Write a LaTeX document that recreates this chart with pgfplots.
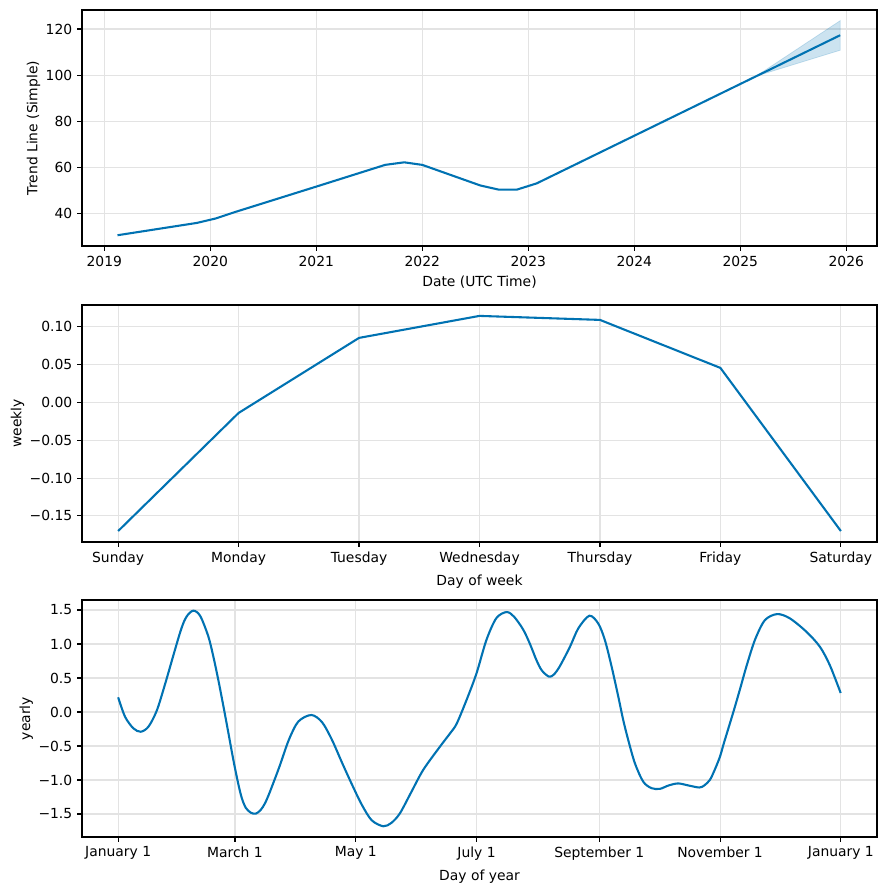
\documentclass[border=0pt]{standalone}
\usepackage{fontspec}
\setmainfont{DejaVu Sans}
\usepackage{pgfplots}
\pgfplotsset{compat=1.18}
\definecolor{pblue}{HTML}{0072B2}
\definecolor{gridc}{HTML}{E3E3E3}
\pgfplotsset{
  comp/.style={
    width=572.4pt, scale only axis,
    anchor=north west,
    /pgf/number format/assume math mode=true,
    /pgf/number format/1000 sep={},
    grid=major, major grid style={gridc, line width=0.8pt},
    axis line style={line width=0.8pt},
    every tick/.style={black, line width=0.8pt},
    tick align=outside, major tick length=3.5pt,
    xtick pos=lower, ytick pos=left,
    tick label style={font=\fontsize{10}{12}\selectfont},
    label style={font=\fontsize{10}{12}\selectfont},
    ylabel shift=-3pt,
  }
}
\begin{document}
\begin{tikzpicture}
\useasboundingbox (0,0) rectangle (637.92pt,-640.8pt);
% ---------- Trend ----------
\begin{axis}[comp, at={(59.04pt,-7.2pt)}, height=169.92pt,
  xmin=2018.79, xmax=2026.29, ymin=26.1, ymax=128.2,
  xtick={2019,2020,2021,2022,2023,2024,2025,2026},
  ytick={40,60,80,100,120},
  xlabel={Date (UTC Time)}, ylabel={Trend Line (Simple)}]
\addplot[fill=pblue, fill opacity=0.2, draw=pblue, draw opacity=0.2, line width=0.5pt] coordinates {
 (2025.15,99.6) (2025.943,123.6) (2025.943,110.8) (2025.15,99.6) } -- cycle;
\addplot[pblue, line width=1.5pt, line join=round] coordinates {
 (2019.125,30.76) (2019.875,36.1) (2020.05,38.0) (2020.22,40.6) (2021.007,51.9)
 (2021.65,61.2) (2021.83,62.3) (2022.0,61.2) (2022.547,52.3) (2022.72,50.5)
 (2022.893,50.5) (2023.08,53.2) (2025.943,117.3) };
\end{axis}
% ---------- Weekly ----------
\begin{axis}[comp, at={(59.04pt,-219.6pt)}, height=170.64pt,
  xmin=-0.3, xmax=6.3, ymin=-0.1845, ymax=0.129,
  xtick={0,1,2,3,4,5,6},
  xticklabels={Sunday,Monday,Tuesday,Wednesday,Thursday,Friday,Saturday},
  ytick={-0.15,-0.10,-0.05,0,0.05,0.10},
  yticklabels={−0.15,−0.10,−0.05,0.00,0.05,0.10},
  xlabel={Day of week}, ylabel={weekly}]
\addplot[pblue, line width=1.5pt, line join=round] coordinates {
 (0,-0.170) (1,-0.0138) (2,0.0855) (3,0.1146) (4,0.1093) (5,0.0458) (6,-0.170) };
\end{axis}
% ---------- Yearly ----------
\begin{axis}[comp, at={(59.04pt,-432pt)}, height=170.64pt,
  xmin=-18.25, xmax=383.25, ymin=-1.838, ymax=1.647,
  xtick={0,59,120,181,243,304,365},
  xticklabels={January 1,March 1,May 1,July 1,September 1,November 1,January 1},
  ytick={-1.5,-1,-0.5,0,0.5,1,1.5},
  yticklabels={−1.5,−1.0,−0.5,0.0,0.5,1.0,1.5},
  xlabel={Day of year}, ylabel={yearly}]
\addplot[pblue, line width=1.5pt, smooth] coordinates {
 (0,0.216) (3.5,-0.07) (7.7,-0.24) (11.4,-0.29) (15.3,-0.216) (19.5,0.02) (23.7,0.41)
 (31.3,1.17) (34.5,1.40) (38.0,1.49) (41.5,1.41) (45.6,1.107) (48.1,0.813)
 (50.6,0.47) (53.2,0.08) (55.7,-0.31) (58.2,-0.706) (60.7,-1.06) (62.5,-1.27)
 (64.5,-1.41) (67,-1.48) (69.5,-1.495) (72,-1.44) (74.2,-1.34) (76.7,-1.17) (81.5,-0.80)
 (86.2,-0.41) (91,-0.14)
 (97.6,-0.044) (103,-0.15) (108,-0.41) (113,-0.74) (118,-1.06) (123,-1.36) (128,-1.59)
 (133.9,-1.68) (138,-1.63) (142.3,-1.49) (148,-1.18) (154.1,-0.85) (162.5,-0.51)
 (168,-0.30) (171,-0.17) (176,0.18) (181,0.57) (186,1.06) (191,1.38) (196.2,1.47)
 (200,1.40) (204.6,1.21) (208,1.0) (211.3,0.76) (214,0.61) (217.6,0.52) (220,0.55) (223,0.67)
 (228.2,0.96) (232.4,1.23) (238,1.416) (242.5,1.30) (245.8,1.06) (249.2,0.67)
 (252.6,0.225) (255.1,-0.12) (257.6,-0.41) (261.0,-0.755) (265.2,-1.025) (269.4,-1.12)
 (273.6,-1.13) (278,-1.08) (282.8,-1.05) (288,-1.08) (293.5,-1.11) (296,-1.08)
 (298.8,-1.0) (301,-0.87) (303.9,-0.66) (306,-0.45) (310.6,-0.01) (314,0.33) (317.4,0.68)
 (321.6,1.06) (326.6,1.35) (332.8,1.44) (339.2,1.378) (347.6,1.18) (354.4,0.96)
 (359.4,0.69) (364.9,0.28) };
\end{axis}
\end{tikzpicture}
\end{document}
